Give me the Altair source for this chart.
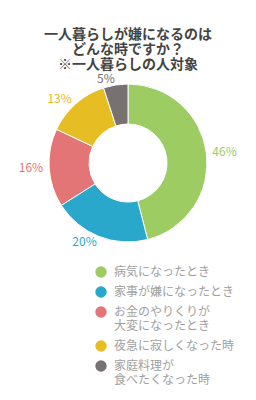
import altair as alt
import pandas as pd

categories = ["病気になったとき", "家事が嫌になったとき", "お金のやりくりが\n大変になったとき",
              "夜急に寂しくなった時", "家庭料理が\n食べたくなった時"]
values = [46, 20, 16, 13, 5]
colors = ["#9ccc62", "#2aa8cb", "#e37576", "#e6bd22", "#777171"]
title_lines = ["一人暮らしが嫌になるのは", "どんな時ですか？", "※一人暮らしの人対象"]

df = pd.DataFrame({"cat": categories, "value": values, "idx": list(range(len(values)))})
df["label"] = df["value"].astype(str) + "%"

FONT = "Noto Sans CJK JP"
CX, CY = 128, 93

color = alt.Color("cat:N", scale=alt.Scale(domain=categories, range=colors), sort=categories,
                  legend=alt.Legend(title=None, orient="none", legendX=95, legendY=196,
                                    symbolType="circle", symbolSize=130, symbolStrokeWidth=0,
                                    labelFont=FONT, labelFontSize=12, labelColor="#a0a0a0",
                                    labelExpr="split(datum.label, '\\n')", labelOffset=7,
                                    rowPadding=8, labelLimit=200))

base = alt.Chart(df)

arc = base.mark_arc(radius=79, innerRadius=39, stroke="white", strokeWidth=1).encode(
    theta=alt.Theta("value:Q", stack=True, scale=alt.Scale(domain=[0, 100])),
    order=alt.Order("idx:Q"),
    color=color,
    x=alt.value(CX), y=alt.value(CY),
)

lab = base.transform_window(
    cum="sum(value)", sort=[alt.SortField("idx")], frame=[None, 0]
).transform_calculate(mid="datum.cum - datum.value / 2")

def text_layer(cond, align):
    return lab.transform_filter(cond).mark_text(
        align=align, baseline="middle", font=FONT, fontSize=12
    ).encode(
        theta=alt.Theta("mid:Q", stack=False, scale=alt.Scale(domain=[0, 100])),
        radius=alt.value(85),
        text="label:N",
        color=alt.Color("cat:N", scale=alt.Scale(domain=categories, range=colors), legend=None),
        x=alt.value(CX), y=alt.value(CY),
    )

right = text_layer("datum.mid < 50", "left")
left = text_layer("datum.mid >= 50", "right")

chart = alt.layer(arc, right, left).properties(
    width=256, height=330,
    autosize=alt.AutoSizeParams(type="none"),
    padding={"top": 70, "left": 0, "right": 0, "bottom": 0},
    title=alt.TitleParams(text=title_lines, font=FONT, fontSize=14, fontWeight="bold",
                          color="#444444", anchor="middle", lineHeight=15, offset=-2),
).configure_view(stroke=None)

chart.save("out.html", embed_options={"renderer": "svg", "actions": False})
